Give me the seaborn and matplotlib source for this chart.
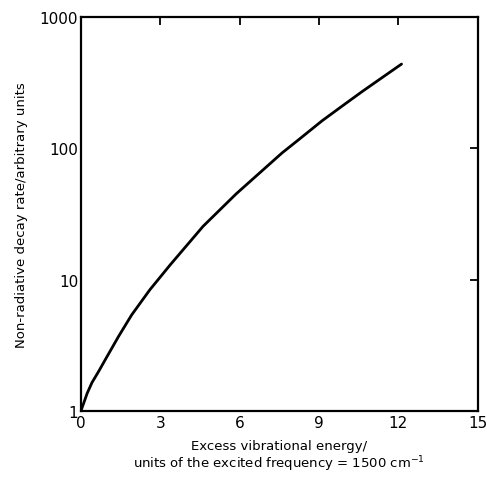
import matplotlib
matplotlib.use("Agg")
import matplotlib.pyplot as plt
import seaborn as sns
import pandas as pd
from matplotlib.ticker import FixedLocator, NullLocator

energy = [0, 0.24, 0.42, 0.68, 0.93, 1.43, 1.92, 2.61, 3.38, 4.62, 5.87, 7.6, 8.25, 9.12, 9.87, 10.62, 11.37, 12.12]
rate = [1.0, 1.37, 1.65, 2.02, 2.48, 3.72, 5.4, 8.4, 13, 25.5, 45, 92, 117, 162, 209, 269, 343, 437]
x_ticks = [0, 3, 6, 9, 12, 15]
y_ticks = [1, 10, 100, 1000]
y_tick_labels = ["1", "10", "100", "1000"]

sns.set_theme(style="white")
plt.rcParams["font.family"] = ["DejaVu Sans"]

fig = plt.figure(figsize=(4.87, 4.81), dpi=100)
ax = fig.add_axes([0.166, 0.143, 0.815, 0.82])

df = pd.DataFrame({"energy": energy, "rate": rate})
sns.lineplot(data=df, x="energy", y="rate", ax=ax, color="black", linewidth=2.0)

ax.set_yscale("log")
ax.set_xlim(0, 15)
ax.set_ylim(1, 1000)
ax.xaxis.set_major_locator(FixedLocator(x_ticks))
ax.yaxis.set_major_locator(FixedLocator(y_ticks))
ax.yaxis.set_minor_locator(NullLocator())
ax.set_xticklabels([str(t) for t in x_ticks], fontsize=11)
ax.set_yticklabels(y_tick_labels, fontsize=11)
ax.tick_params(axis="both", which="major", direction="in", length=6, width=1.3,
               top=True, right=True, color="black", labelcolor="black")
ax.tick_params(axis="x", pad=3)
ax.tick_params(axis="y", pad=2)
for s in ax.spines.values():
    s.set_color("black")
    s.set_linewidth(1.6)

ax.set_xlabel("Excess vibrational energy/\nunits of the excited frequency = 1500 cm$^{-1}$",
              fontsize=9.5, color="black", labelpad=6, linespacing=1.1)
ax.set_ylabel("Non-radiative decay rate/arbitrary units", fontsize=9.5, color="black", labelpad=8)

fig.savefig("out.png", dpi=100)
